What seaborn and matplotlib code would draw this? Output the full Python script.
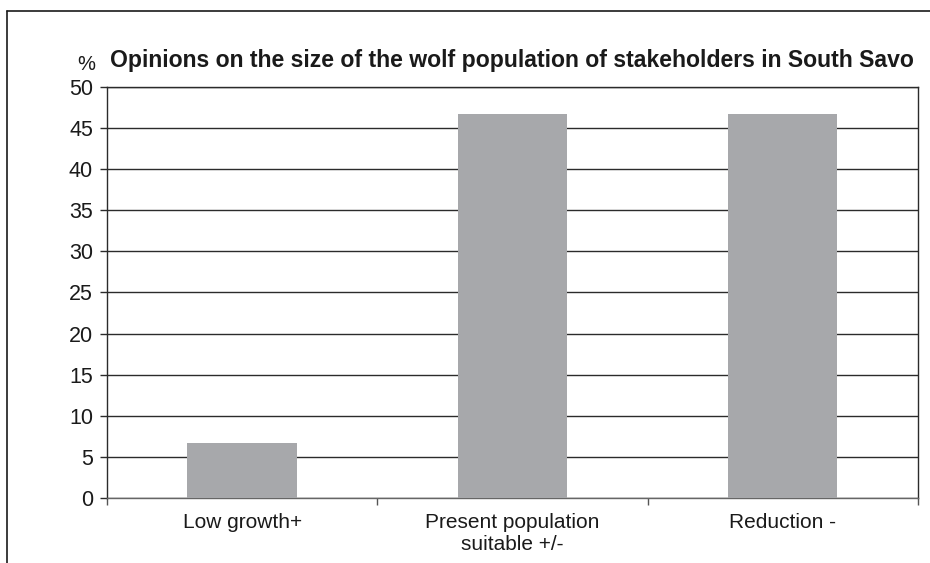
import numpy as np
import pandas as pd
import seaborn as sns
import matplotlib.pyplot as plt
from matplotlib.lines import Line2D

# opinion categories and share of stakeholders (%)
categories = ["Low growth+", "Present population\nsuitable +/-", "Reduction -"]
shares = [6.7, 46.7, 46.7]
y_ticks = list(range(0, 55, 5))

df = pd.DataFrame({"opinion": categories, "share": shares})

sns.set_style("white")
plt.rcParams['font.family'] = ['Liberation Sans', 'DejaVu Sans']

fig = plt.figure(figsize=(9.3, 5.63), dpi=100)
ax = fig.add_axes([0.115, 0.1155, 0.872, 0.730])

sns.barplot(data=df, x="opinion", y="share", color="#a7a8ab", width=0.405,
            saturation=1, linewidth=0, ax=ax, zorder=3)

ax.set_ylim(0, 50)
ax.set_xlim(-0.5, 2.5)
ax.set_yticks(y_ticks)
ax.yaxis.grid(True, color="#2b2b2b", linewidth=1.0, zorder=1)
ax.set_axisbelow(True)
ax.tick_params(axis="y", which="major", length=5, width=1, color="#2b2b2b",
               labelsize=15.5, pad=5, left=True, labelcolor="#1a1a1a")
ax.set_xticks(range(len(categories)))
ax.set_xticklabels(categories, fontsize=15, color="#1a1a1a", linespacing=1.15)
ax.tick_params(axis="x", which="major", length=0, pad=11)
ax.set_xticks([-0.5, 0.5, 1.5, 2.5], minor=True)
ax.tick_params(axis="x", which="minor", length=5, width=1, color="#555555",
               bottom=True)
ax.set_xlabel("")
ax.set_ylabel("")

for side in ["left", "right", "bottom", "top"]:
    ax.spines[side].set_visible(True)
    ax.spines[side].set_linewidth(1.0)
ax.spines["left"].set_color("#2b2b2b")
ax.spines["right"].set_color("#2b2b2b")
ax.spines["top"].set_color("#2b2b2b")
ax.spines["bottom"].set_color("#666666")

fig.text(0.118, 0.893, "Opinions on the size of the wolf population of stakeholders in South Savo",
         fontsize=16.6, fontweight="bold", color="#1a1a1a", va="center", ha="left")
fig.text(0.083, 0.885, "%", fontsize=14.5, color="#1a1a1a", va="center", ha="left")

# outer frame, only top and left edges visible
fig.add_artist(Line2D([0.0075, 1.0], [0.981, 0.981], transform=fig.transFigure,
                      color="#1a1a1a", linewidth=1.2))
fig.add_artist(Line2D([0.0075, 0.0075], [0.0, 0.981], transform=fig.transFigure,
                      color="#1a1a1a", linewidth=1.2))

fig.savefig("out.png", dpi=100)
